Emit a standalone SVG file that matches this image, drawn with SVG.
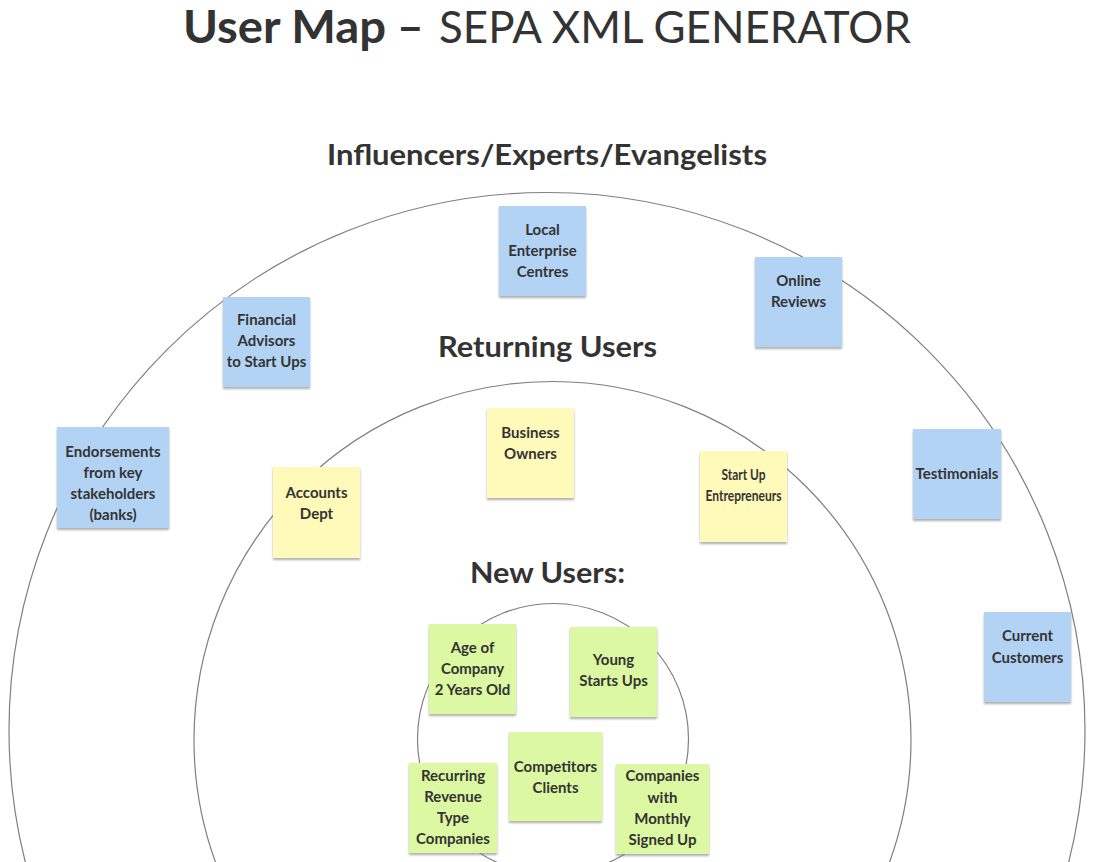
<svg xmlns="http://www.w3.org/2000/svg" width="1098" height="862" viewBox="0 0 1098 862">
<style>
.ring{fill:none;stroke:#7f7f7f;stroke-width:1.2}
.blue{fill:#B3D3F5}
.yellow{fill:#FFF9BA}
.green{fill:#DCF8A2}
.note{filter:url(#sh)}
.nt{font-family:Lato,"Liberation Sans",sans-serif;font-weight:bold;font-size:15px;fill:#333;text-anchor:middle}
.h{font-family:Lato,"Liberation Sans",sans-serif;font-weight:bold;fill:#333}
</style>
<defs>
<filter id="sh" x="-10%" y="-10%" width="120%" height="125%">
<feDropShadow dx="0" dy="2" stdDeviation="1" flood-color="#777" flood-opacity="0.6"/>
</filter>
</defs>
<rect width="1098" height="862" fill="#fff"/>
<g id="title">
<text x="183" y="43" class="h" font-size="46" textLength="203" lengthAdjust="spacingAndGlyphs">User Map</text>
<text x="397" y="43" class="h" font-size="46">–</text>
<text x="439" y="43" font-family="Lato,'Liberation Sans',sans-serif" font-size="44" fill="#333" textLength="472" lengthAdjust="spacingAndGlyphs">SEPA XML GENERATOR</text>
</g>
<g id="rings">
<circle class="ring" cx="547" cy="730.5" r="538"/>
<circle class="ring" cx="552.5" cy="740" r="358.5"/>
<circle class="ring" cx="553" cy="739" r="135.5"/>
</g>
<g id="headings">
<text x="327" y="165" class="h" font-size="29" textLength="440" lengthAdjust="spacingAndGlyphs">Influencers/Experts/Evangelists</text>
<text x="438" y="357" class="h" font-size="29" textLength="219" lengthAdjust="spacingAndGlyphs">Returning Users</text>
<text x="470" y="583" class="h" font-size="29" textLength="155" lengthAdjust="spacingAndGlyphs">New Users:</text>
</g>
<g id="connectors"></g>
<g id="local-enterprise-centres">
<rect class="blue note" x="499" y="206" width="87" height="90"/>
<text class="nt" x="542.5"><tspan x="542.5" y="235">Local</tspan><tspan x="542.5" y="256">Enterprise</tspan><tspan x="542.5" y="277">Centres</tspan></text>
</g>
<g id="online-reviews">
<rect class="blue note" x="755" y="257" width="87" height="90"/>
<text class="nt"><tspan x="798.5" y="286">Online</tspan><tspan x="798.5" y="307">Reviews</tspan></text>
</g>
<g id="financial-advisors">
<rect class="blue note" x="223" y="297" width="87" height="90"/>
<text class="nt"><tspan x="266.5" y="325">Financial</tspan><tspan x="266.5" y="346">Advisors</tspan><tspan x="266.5" y="367">to Start Ups</tspan></text>
</g>
<g id="endorsements">
<rect class="blue note" x="57" y="427" width="112" height="101"/>
<text class="nt"><tspan x="113" y="457">Endorsements</tspan><tspan x="113" y="478">from key</tspan><tspan x="113" y="499">stakeholders</tspan><tspan x="113" y="520">(banks)</tspan></text>
</g>
<g id="testimonials">
<rect class="blue note" x="913" y="429" width="88" height="90"/>
<text class="nt" x="957" y="479" font-size="14">Testimonials</text>
</g>
<g id="current-customers">
<rect class="blue note" x="984" y="612" width="87" height="90"/>
<text class="nt"><tspan x="1027.5" y="641">Current</tspan><tspan x="1027.5" y="663">Customers</tspan></text>
</g>
<g id="business-owners">
<rect class="yellow note" x="487" y="408" width="87" height="90"/>
<text class="nt"><tspan x="530.5" y="438">Business</tspan><tspan x="530.5" y="459">Owners</tspan></text>
</g>
<g id="accounts-dept">
<rect class="yellow note" x="273" y="467" width="87" height="91"/>
<text class="nt"><tspan x="316.5" y="498">Accounts</tspan><tspan x="316.5" y="519">Dept</tspan></text>
</g>
<g id="start-up-entrepreneurs">
<rect class="yellow note" x="700" y="451" width="87" height="91"/>
<text class="nt" x="743.5" y="480" font-size="14" textLength="44" lengthAdjust="spacingAndGlyphs">Start Up</text>
<text class="nt" x="743.5" y="501" font-size="14" textLength="76" lengthAdjust="spacingAndGlyphs">Entrepreneurs</text>
</g>
<g id="age-of-company">
<rect class="green note" x="429" y="624" width="87" height="90"/>
<text class="nt"><tspan x="472.5" y="653">Age of</tspan><tspan x="472.5" y="674">Company</tspan><tspan x="472.5" y="695">2 Years Old</tspan></text>
</g>
<g id="young-start-ups">
<rect class="green note" x="570" y="627" width="87" height="90"/>
<text class="nt"><tspan x="613.5" y="665">Young</tspan><tspan x="613.5" y="686">Starts Ups</tspan></text>
</g>
<g id="competitors-clients">
<rect class="green note" x="509" y="732" width="93" height="89"/>
<text class="nt"><tspan x="555.5" y="772">Competitors</tspan><tspan x="555.5" y="793">Clients</tspan></text>
</g>
<g id="recurring-revenue">
<rect class="green note" x="409" y="763" width="88" height="90"/>
<text class="nt"><tspan x="453" y="781">Recurring</tspan><tspan x="453" y="802">Revenue</tspan><tspan x="453" y="823">Type</tspan><tspan x="453" y="844">Companies</tspan></text>
</g>
<g id="companies-monthly">
<rect class="green note" x="616" y="764" width="93" height="90"/>
<text class="nt"><tspan x="662.5" y="781">Companies</tspan><tspan x="662.5" y="803">with</tspan><tspan x="662.5" y="824">Monthly</tspan><tspan x="662.5" y="845">Signed Up</tspan></text>
</g>
</svg>
